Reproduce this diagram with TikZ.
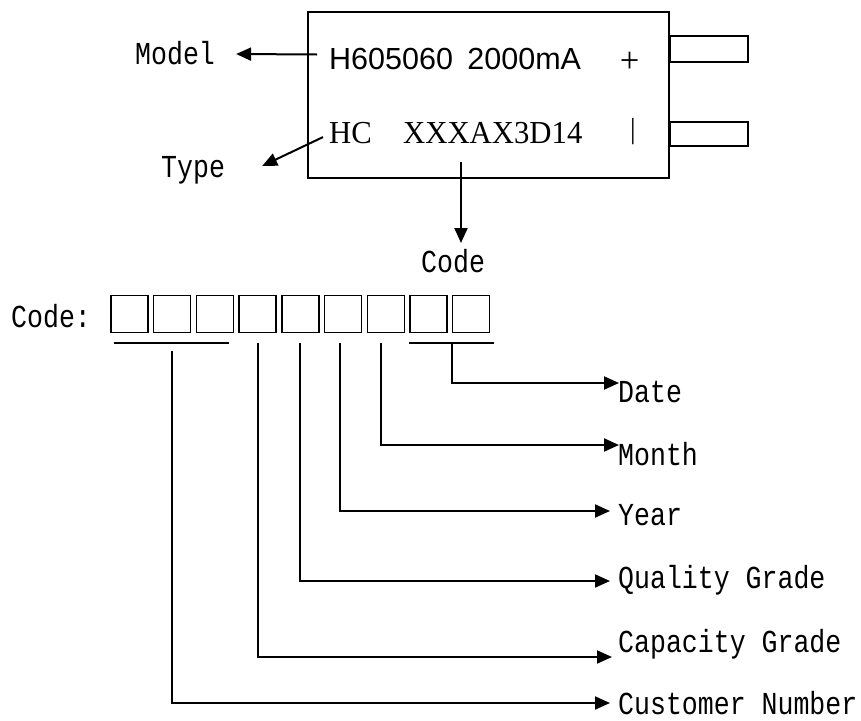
\documentclass[tikz,border=0pt]{standalone}
\usepackage{fontspec}
\usetikzlibrary{arrows.meta}
\newfontfamily\lblfont[FakeStretch=0.83]{Liberation Mono}
\newfontfamily\arialfont{Liberation Sans}
\newfontfamily\timesfont[FakeStretch=0.96]{Liberation Serif}

\begin{document}
\begin{tikzpicture}[
  x=1pt, y=-1pt,
  lbl/.style={
    font=\lblfont\fontsize{32}{34}\selectfont,
    inner sep=0pt,
    text height=20pt,
    text depth=6pt,
    anchor=base west
  },
  printed/.style={inner sep=0pt, anchor=base west},
  outline/.style={draw, line width=2pt, inner sep=0pt},
  cell/.style={
    draw,
    line width=1.4pt,
    minimum width=37pt,
    minimum height=37pt,
    inner sep=0pt
  },
  wire/.style={line width=2pt},
  arrow/.style={wire, -{Triangle[length=15pt,width=13pt]}}
]
\useasboundingbox (0,0) rectangle (861,720);

% battery label
\node[outline, minimum width=361pt, minimum height=166pt] (battery) at (488.5,95) {};
\node[outline, minimum width=78pt, minimum height=26pt, anchor=west] (posTab) at (669,49) {};
\node[outline, minimum width=78pt, minimum height=24pt, anchor=west] (negTab) at (669,134) {};

\node[printed, font=\arialfont\fontsize{30.5}{32}\selectfont] (modelTxt) at (329,69) {H605060\hspace{6pt} 2000mA};
\node[printed, font=\timesfont\fontsize{32}{34}\selectfont] (hcTxt) at (329,143) {HC};
\node[printed, font=\timesfont\fontsize{32}{34}\selectfont] (serialTxt) at (403,143) {XXXAX3D14};
\node[inner sep=0pt, font=\timesfont\fontsize{36}{38}\selectfont] (plusTxt) at (629.5,62.5) {+};
\node[inner sep=0pt, font=\timesfont\fontsize{29}{31}\selectfont] (minusTxt) at (633,131.5) {|};

\node[lbl] (modelLbl) at (135,64) {Model};
\node[lbl] (typeLbl) at (161,177) {Type};
\node[lbl] (codeLbl) at (421,272) {Code};

\draw[arrow] ([xshift=-12pt,yshift=4pt]modelTxt.west) -- ([xshift=21pt,yshift=3pt]modelLbl.east);
\draw[arrow] ([xshift=-6pt,yshift=-4.5pt]hcTxt.west) -- ([xshift=37pt,yshift=4pt]typeLbl.east);
\coordinate (codeFoot) at (461,162);
\draw[arrow] (codeFoot) -- ++(0,81);

% code cells
\node[lbl] (codeKey) at (11,327) {Code:};
\foreach \i in {1,...,9}
  \node[cell] (c\i) at ({129.5+42.7*(\i-1)},314) {};

\draw[wire] ([xshift=4pt,yshift=-10pt]c1.south west) -- ([xshift=-5pt,yshift=-10pt]c3.south east);
\draw[wire] ([yshift=-10pt]c8.south west) -- ([xshift=4pt,yshift=-10pt]c9.south east);

\node[lbl] (dateLbl) at (618,402) {Date};
\node[lbl] (monthLbl) at (618,465) {Month};
\node[lbl] (yearLbl) at (618,525) {Year};
\node[lbl] (qualLbl) at (618,588) {Quality Grade};
\node[lbl] (capLbl) at (618,652) {Capacity Grade};
\node[lbl] (custLbl) at (618,714) {Customer Number};

\draw[arrow] ([yshift=-10pt]c9.south west) |- ([xshift=1pt,yshift=12pt]dateLbl.west);
\draw[arrow] ([xshift=-5pt,yshift=-10pt]c7.south) |- ([xshift=1pt,yshift=13pt]monthLbl.west);
\draw[arrow] ([xshift=-3pt,yshift=-10pt]c6.south) |- ([xshift=-8pt,yshift=7pt]yearLbl.west);
\draw[arrow] ([yshift=-10pt]c5.south) |- ([xshift=-8pt]qualLbl.west);
\draw[arrow] ([yshift=-10pt]c4.south) |- ([xshift=-6pt,yshift=-12pt]capLbl.west);
\draw[arrow] ([yshift=-18pt]c2.south) |- ([xshift=-8pt,yshift=4pt]custLbl.west);

\end{tikzpicture}
\end{document}
